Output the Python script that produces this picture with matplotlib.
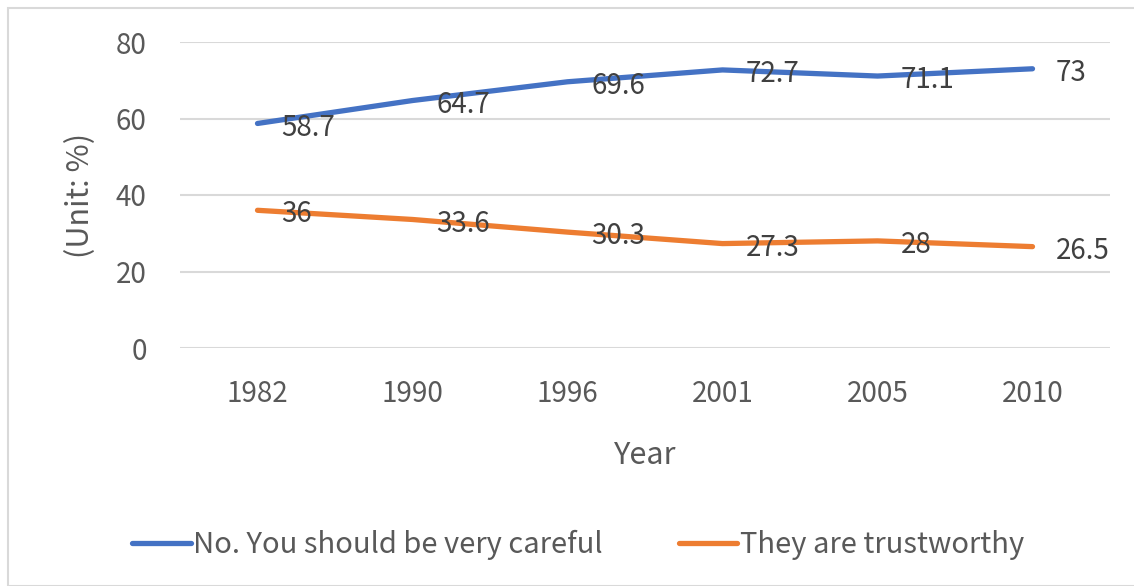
import matplotlib.pyplot as plt
from matplotlib.patches import Rectangle

plt.rcParams['font.family'] = ['Noto Sans CJK KR', 'DejaVu Sans']

years = ['1982', '1990', '1996', '2001', '2005', '2010']
careful = [58.7, 64.7, 69.6, 72.7, 71.1, 73]
trustworthy = [36, 33.6, 30.3, 27.3, 28, 26.5]

blue = '#4472C4'
orange = '#ED7D31'
grey = '#595959'

fig = plt.figure(figsize=(11.34, 5.86), dpi=100)
ax = fig.add_axes([180 / 1134, 1 - 348 / 586, 930 / 1134, 306 / 586])

# chart frame
fig.patches.append(Rectangle((8 / 1134, 0), 1.2, 1 - 8 / 586, transform=fig.transFigure,
                             fill=False, edgecolor='#D9D9D9', lw=1.5))

x = range(len(years))
ax.plot(x, careful, color=blue, lw=3.8, solid_capstyle='round',
        label='No. You should be very careful')
ax.plot(x, trustworthy, color=orange, lw=3.8, solid_capstyle='round',
        label='They are trustworthy')

for xi, v in zip(x, careful):
    ax.annotate(f'{v:g}', (xi, v), xytext=(17, -3), textcoords='offset points',
                ha='left', va='center', fontsize=20, color='#404040')
for xi, v in zip(x, trustworthy):
    ax.annotate(f'{v:g}', (xi, v), xytext=(17, -3), textcoords='offset points',
                ha='left', va='center', fontsize=20, color='#404040')

ax.set_xlim(-0.5, 5.5)
ax.set_ylim(0, 80)
ax.set_yticks([0, 20, 40, 60, 80])
ax.set_xticks(list(x))
ax.set_xticklabels(years)
ax.tick_params(length=0, labelsize=20, labelcolor=grey)
ax.tick_params(axis='y', pad=24)
ax.tick_params(axis='x', pad=22)
ax.grid(axis='y', color='#D9D9D9', lw=1.5)
ax.set_axisbelow(True)
for s in ax.spines.values():
    s.set_visible(False)

ax.set_xlabel('Year', fontsize=22, color=grey, labelpad=23)
ax.set_ylabel('(Unit: %)', fontsize=22, color=grey, labelpad=14)

fig.legend(loc='center', bbox_to_anchor=(0.51, 1 - 545 / 586), ncol=2, frameon=False,
           fontsize=21, labelcolor=grey, handlelength=2.0, handletextpad=0.1,
           columnspacing=2.6)

fig.savefig('out.png', dpi=100)
